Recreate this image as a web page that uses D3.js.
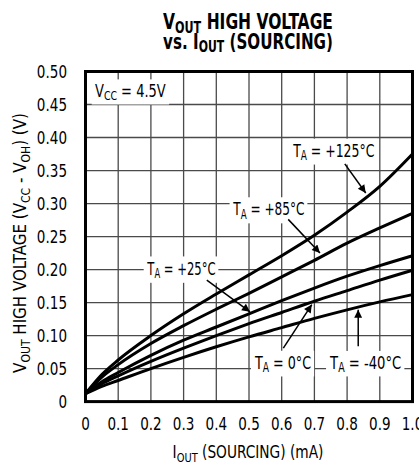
<!DOCTYPE html>
<html>
<head>
<meta charset="utf-8">
<script src="https://cdn.jsdelivr.net/npm/d3@7"></script>
<style>
  body { margin: 0; background: #fff; }
  svg { display: block; }
  text { font-family: "Liberation Sans Narrow", "Arial Narrow", "DejaVu Sans Condensed", sans-serif; fill: #000; }
</style>
</head>
<body>
<div id="chart"></div>
<script>
// I_OUT (mA)
const current = [0, 0.05, 0.1, 0.2, 0.3, 0.4, 0.5, 0.6, 0.7, 0.8, 0.9, 1.0];

// V_CC - V_OH (V), one array per ambient temperature
const t125 = [0.012, 0.041, 0.063, 0.100, 0.133, 0.163, 0.192, 0.221, 0.252, 0.287, 0.326, 0.375];
const t85  = [0.012, 0.037, 0.056, 0.088, 0.115, 0.140, 0.164, 0.189, 0.214, 0.240, 0.263, 0.285];
const t25  = [0.012, 0.030, 0.044, 0.070, 0.093, 0.113, 0.133, 0.153, 0.172, 0.190, 0.206, 0.221];
const t0   = [0.012, 0.027, 0.039, 0.061, 0.081, 0.100, 0.118, 0.135, 0.152, 0.168, 0.184, 0.199];
const tm40 = [0.012, 0.023, 0.032, 0.050, 0.067, 0.083, 0.098, 0.112, 0.126, 0.139, 0.151, 0.162];

const xTicks = [0, 0.1, 0.2, 0.3, 0.4, 0.5, 0.6, 0.7, 0.8, 0.9, 1.0];
const xTickLabels = ["0", "0.1", "0.2", "0.3", "0.4", "0.5", "0.6", "0.7", "0.8", "0.9", "1.0"];
const yTicks = [0, 0.05, 0.1, 0.15, 0.2, 0.25, 0.3, 0.35, 0.4, 0.45, 0.5];
const yTickLabels = ["0", "0.05", "0.10", "0.15", "0.20", "0.25", "0.30", "0.35", "0.40", "0.45", "0.50"];

const series = [t125, t85, t25, t0, tm40];

// label text anchor (data units), its width in px, arrow from -> to (data units)
const labels = [
  { temp: "+125°C", x: 0.635, y: 0.371, w: 82, from: [0.793, 0.360], to: [0.857, 0.316] },
  { temp: "+85°C",  x: 0.452, y: 0.282, w: 72, from: [0.620, 0.276], to: [0.717, 0.225] },
  { temp: "+25°C",  x: 0.189, y: 0.192, w: 69, from: [0.371, 0.184], to: [0.503, 0.136] },
  { temp: "0°C",    x: 0.518, y: 0.050, w: 57, from: [0.605, 0.081], to: [0.692, 0.147] },
  { temp: "-40°C",  x: 0.748, y: 0.050, w: 72, from: [0.834, 0.084], to: [0.834, 0.139] }
];

const W = 419, H = 465;
const plotLeft = 85.5, plotRight = 412.5, plotTop = 71.5, plotBottom = 401.6;

const svg = d3.select("#chart").append("svg")
  .attr("width", W)
  .attr("height", H);

svg.append("defs").append("marker")
  .attr("id", "head")
  .attr("viewBox", "0 0 10 10")
  .attr("refX", 10)
  .attr("refY", 5)
  .attr("markerUnits", "userSpaceOnUse")
  .attr("markerWidth", 12)
  .attr("markerHeight", 8)
  .attr("orient", "auto")
  .append("path")
  .attr("d", "M0,0 L10,5 L0,10 Z")
  .attr("fill", "#000");

const x = d3.scaleLinear().domain([0, 1]).range([plotLeft, plotRight]);
const y = d3.scaleLinear().domain([0, 0.5]).range([plotBottom, plotTop]);

// grid
const grid = svg.append("g").attr("stroke", "#4a4a4a").attr("stroke-width", 1.3);
grid.selectAll(".vx")
  .data(xTicks.slice(1, -1))
  .enter().append("line")
  .attr("x1", d => x(d)).attr("x2", d => x(d))
  .attr("y1", plotTop).attr("y2", plotBottom);
grid.selectAll(".hy")
  .data(yTicks.slice(1, -1))
  .enter().append("line")
  .attr("x1", plotLeft).attr("x2", plotRight)
  .attr("y1", d => y(d)).attr("y2", d => y(d));

// curves
const line = d3.line()
  .x((d, i) => x(current[i]))
  .y(d => y(d))
  .curve(d3.curveMonotoneX);

svg.append("g")
  .selectAll("path")
  .data(series)
  .enter().append("path")
  .attr("d", line)
  .attr("fill", "none")
  .attr("stroke", "#000")
  .attr("stroke-width", 3);

// text with subscripts, drawn in its own group at (0,0)
function labelText(g, parts, size) {
  const t = g.append("text").attr("font-size", size);
  parts.forEach(p => {
    const ts = t.append("tspan").text(p.s);
    if (p.sub) ts.attr("font-size", size * 0.72).attr("dy", 3.5);
    else if (p.after) ts.attr("dy", -3.5);
  });
  return t;
}

// no narrow font installed: squeeze the group horizontally to width w
function squeezed(parent, xp, yp, w, build, extra) {
  const g = parent.append("g");
  const t = build(g);
  const k = w / t.node().getBBox().width;
  g.attr("transform", `translate(${xp},${yp})${extra || ""} scale(${k},1)`);
  return g;
}

// labels with white boxes that cut the grid
function boxed(xp, yp, parts, size, w) {
  const g = squeezed(svg, xp, yp, w, g => labelText(g, parts, size));
  const b = g.select("text").node().getBBox();
  g.insert("rect", "text")
    .attr("x", b.x - 4).attr("y", b.y - 1)
    .attr("width", b.width + 8).attr("height", b.height + 2)
    .attr("fill", "#fff");
}

boxed(x(0.029), y(0.4618), [{ s: "V" }, { s: "CC", sub: true }, { s: " = 4.5V", after: true }], 17.5, 71);

labels.forEach(l => {
  boxed(x(l.x), y(l.y), [{ s: "T" }, { s: "A", sub: true }, { s: " = " + l.temp, after: true }], 18.5, l.w);
  svg.append("line")
    .attr("x1", x(l.from[0])).attr("y1", y(l.from[1]))
    .attr("x2", x(l.to[0])).attr("y2", y(l.to[1]))
    .attr("stroke", "#000")
    .attr("stroke-width", 1.5)
    .attr("marker-end", "url(#head)");
});

// frame
svg.append("rect")
  .attr("x", plotLeft).attr("y", plotTop)
  .attr("width", plotRight - plotLeft).attr("height", plotBottom - plotTop)
  .attr("fill", "none")
  .attr("stroke", "#000")
  .attr("stroke-width", 3);

// tick labels
const tickK = 0.86;
svg.append("g")
  .selectAll("text")
  .data(yTicks)
  .enter().append("text")
  .attr("text-anchor", "end")
  .attr("dy", "0.36em")
  .attr("font-size", 17.5)
  .attr("transform", d => `translate(67,${y(d)}) scale(${tickK},1)`)
  .text((d, i) => yTickLabels[i]);

svg.append("g")
  .selectAll("text")
  .data(xTicks)
  .enter().append("text")
  .attr("text-anchor", "middle")
  .attr("font-size", 17.5)
  .attr("transform", d => `translate(${x(d)},430) scale(${tickK},1)`)
  .text((d, i) => xTickLabels[i]);

// axis titles
squeezed(svg, 248, 458, 151, g =>
  labelText(g, [{ s: "I" }, { s: "OUT", sub: true }, { s: " (SOURCING) (mA)", after: true }], 17.5)
    .attr("text-anchor", "middle"));

squeezed(svg, 26, 243, 260, g =>
  labelText(g, [{ s: "V" }, { s: "OUT", sub: true }, { s: " HIGH VOLTAGE (V", after: true },
    { s: "CC", sub: true }, { s: " - V", after: true }, { s: "OH", sub: true }, { s: ") (V)", after: true }], 17.5)
    .attr("text-anchor", "middle"), " rotate(-90)");

// title
squeezed(svg, 248, 29, 170, g =>
  labelText(g, [{ s: "V" }, { s: "OUT", sub: true }, { s: " HIGH VOLTAGE", after: true }], 21)
    .attr("text-anchor", "middle").attr("font-weight", "bold"));
squeezed(svg, 248, 48.5, 170, g =>
  labelText(g, [{ s: "vs. I" }, { s: "OUT", sub: true }, { s: " (SOURCING)", after: true }], 21)
    .attr("text-anchor", "middle").attr("font-weight", "bold"));
</script>
</body>
</html>
